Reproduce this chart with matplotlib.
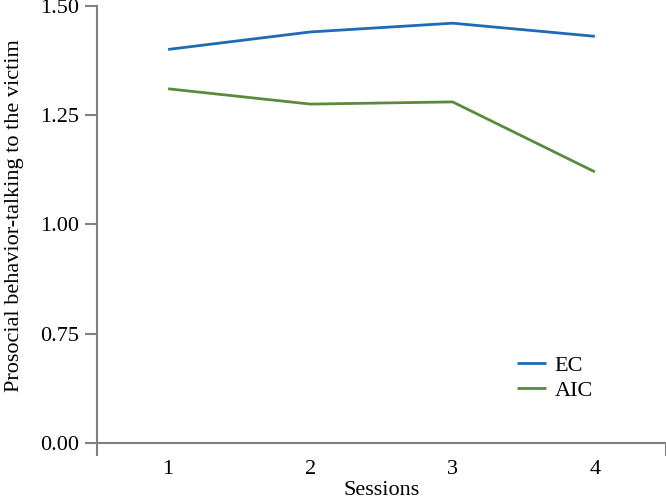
import matplotlib
matplotlib.use("Agg")
import matplotlib.pyplot as plt

sessions = ["1", "2", "3", "4"]
ec = [1.40, 1.44, 1.46, 1.43]
aic = [1.31, 1.275, 1.28, 1.12]
ytick_pos = [0.5, 0.75, 1.0, 1.25, 1.5]   # 0.00 drawn at broken-axis position
ytick_labels = ["0.00", "0.75", "1.00", "1.25", "1.50"]

plt.rcParams['font.family'] = ['Liberation Serif', 'DejaVu Serif']
fs = 16
fig = plt.figure(figsize=(6.66, 5.0), dpi=100)
ax = fig.add_axes([97/666, 1-443/500, 1-97/666, (443-5.7)/500])

x = list(range(len(sessions)))
ax.plot(x, ec, color="#1F6AB4", lw=2.0, label="EC", solid_capstyle='butt')
ax.plot(x, aic, color="#5A8B3D", lw=2.0, label="AIC", solid_capstyle='butt')

ax.set_xlim(-0.5, len(sessions) - 0.5)
ax.set_ylim(0.5, 1.5)
ax.set_yticks(ytick_pos)
ax.set_yticklabels(ytick_labels, fontsize=fs)
ax.set_xticks([-0.5, len(sessions) - 0.5])
ax.set_xticklabels(["", ""])
ax.set_xticks(x, minor=True)
ax.set_xticklabels(sessions, minor=True, fontsize=fs)
ax.tick_params(axis='x', which='minor', length=0, pad=12)
ax.tick_params(axis='x', which='major', length=9, width=1.5, color="#808080")
ax.tick_params(axis='y', length=9, width=1.5, color="#808080", pad=4)

for s in ["top", "right"]:
    ax.spines[s].set_visible(False)
for s in ["left", "bottom"]:
    ax.spines[s].set_color("#808080")
    ax.spines[s].set_linewidth(1.5)
ax.spines['left'].set_zorder(0)

ax.set_xlabel("Sessions", fontsize=fs)
ax.xaxis.set_label_coords(0.5, -0.086)
ax.set_ylabel("Prosocial behavior-talking to the victim", fontsize=fs)
ax.yaxis.set_label_coords(-0.128, 0.519)

ax.legend(loc="upper left", bbox_to_anchor=(0.722, 0.22), frameon=False,
          fontsize=fs, handlelength=1.3, handletextpad=0.4, labelspacing=0.2,
          borderaxespad=0)
ax.patch.set_alpha(0)
fig.savefig("out.png", dpi=100)
